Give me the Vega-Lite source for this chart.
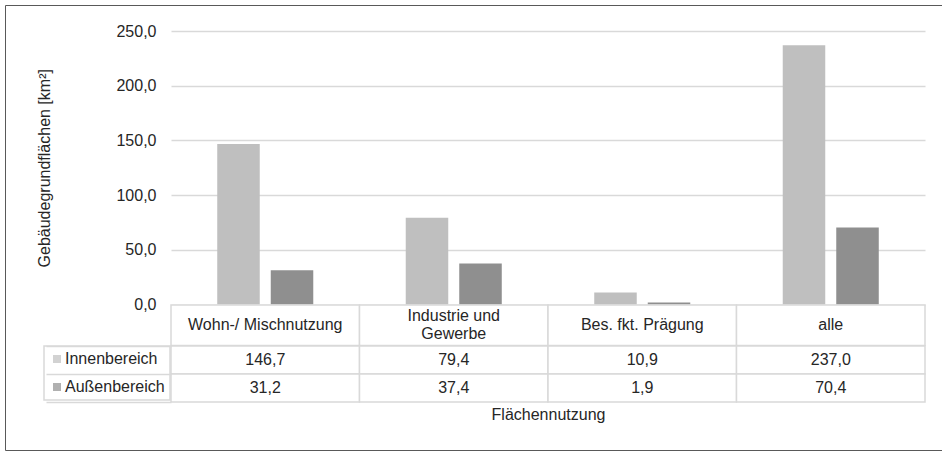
{
  "$schema": "https://vega.github.io/schema/vega-lite/v6.json",
  "background": "white",
  "padding": {"left": 4, "top": 4, "right": 0, "bottom": 0},
  "config": {
    "font": "Liberation Sans",
    "view": {"stroke": null},
    "locale": {"number": {"decimal": ",", "thousands": ".", "grouping": [3], "currency": ["", " €"]}},
    "text": {"fontSize": 16, "color": "#262626"},
    "axis": {"labelFontSize": 16, "titleFontSize": 16, "labelColor": "#262626", "titleColor": "#262626", "titleFontWeight": "normal"},
    "legend": {"strokeWidth": 1.5}
  },
  "datasets": {
    "flaechen": [
      {"Nutzung": "Wohn-/ Mischnutzung", "Bereich": "Innenbereich", "Wert": 146.7},
      {"Nutzung": "Wohn-/ Mischnutzung", "Bereich": "Außenbereich", "Wert": 31.2},
      {"Nutzung": "Industrie und\nGewerbe", "Bereich": "Innenbereich", "Wert": 79.4},
      {"Nutzung": "Industrie und\nGewerbe", "Bereich": "Außenbereich", "Wert": 37.4},
      {"Nutzung": "Bes. fkt. Prägung", "Bereich": "Innenbereich", "Wert": 10.9},
      {"Nutzung": "Bes. fkt. Prägung", "Bereich": "Außenbereich", "Wert": 1.9},
      {"Nutzung": "alle", "Bereich": "Innenbereich", "Wert": 237.0},
      {"Nutzung": "alle", "Bereich": "Außenbereich", "Wert": 70.4}
    ]
  },
  "bounds": "flush",
  "spacing": 0,
  "vconcat": [
    {
      "bounds": "flush",
      "spacing": 0,
      "hconcat": [
        {
          "width": 166,
          "height": 1,
          "data": {"values": []},
          "mark": {"type": "rule"},
          "encoding": {}
        },
        {
          "bounds": "flush",
          "spacing": 0,
          "resolve": {"scale": {"color": "independent"}, "legend": {"color": "independent"}},
          "vconcat": [
            {
              "width": 754,
              "height": 26,
              "data": {"values": []},
              "mark": {"type": "rule"},
              "encoding": {}
            },
            {
              "width": 754,
              "height": 273.5,
              "data": {"name": "flaechen"},
              "mark": {"type": "bar"},
              "encoding": {
                "x": {"field": "Nutzung", "type": "nominal", "sort": null, "scale": {"paddingInner": 0, "paddingOuter": 0}, "axis": null},
                "xOffset": {"field": "Bereich", "type": "nominal", "sort": ["Innenbereich", "Außenbereich"], "scale": {"paddingInner": 0.2056, "paddingOuter": 0.864}},
                "y": {
                  "field": "Wert", "type": "quantitative",
                  "scale": {"domain": [0, 250], "nice": false},
                  "axis": {
                    "values": [0, 50, 100, 150, 200, 250], "format": ".1f",
                    "title": "Gebäudegrundflächen [km²]",
                    "grid": true, "gridColor": "#D9D9D9", "gridWidth": 1.5,
                    "domain": false, "ticks": false, "tickSize": 0,
                    "labelPadding": 15, "titlePadding": 63
                  }
                },
                "color": {
                  "field": "Bereich", "type": "nominal",
                  "scale": {"domain": ["Innenbereich", "Außenbereich"], "range": ["#BFBFBF", "#8F8F8F"]},
                  "legend": null
                }
              }
            },
            {
              "width": 754,
              "height": 40.5,
              "data": {"name": "flaechen"},
              "transform": [{"filter": "datum.Bereich === 'Innenbereich'"}],
              "encoding": {
                "x": {"field": "Nutzung", "type": "nominal", "sort": null, "scale": {"paddingInner": 0, "paddingOuter": 0}, "axis": null}
              },
              "layer": [
                {"mark": {"type": "rect", "fill": "white", "stroke": "#D9D9D9", "strokeWidth": 1.5}},
                {
                  "mark": {"type": "text", "lineBreak": "\n", "dy": {"expr": "indexof(datum.Nutzung, '\\n') >= 0 ? -9 : 0"}},
                  "encoding": {"text": {"field": "Nutzung", "type": "nominal"}}
                }
              ]
            },
            {
              "width": 754,
              "height": 56,
              "data": {"name": "flaechen"},
              "encoding": {
                "x": {
                  "field": "Nutzung", "type": "nominal", "sort": null,
                  "scale": {"paddingInner": 0, "paddingOuter": 0},
                  "axis": {"title": "Flächennutzung", "labels": false, "ticks": false, "domain": false, "titlePadding": 4}
                },
                "y": {
                  "field": "Bereich", "type": "nominal", "sort": ["Innenbereich", "Außenbereich"],
                  "scale": {"paddingInner": 0, "paddingOuter": 0},
                  "axis": {"title": null, "labels": false, "domain": false, "ticks": true, "tickBand": "extent", "tickSize": 125, "tickWidth": 1.5, "tickColor": "#D9D9D9"}
                }
              },
              "layer": [
                {"mark": {"type": "rect", "fill": "white", "stroke": "#D9D9D9", "strokeWidth": 1.5}},
                {"mark": {"type": "text"}, "encoding": {"text": {"field": "Wert", "type": "quantitative", "format": ".1f"}}},
                {
                  "mark": {"type": "point", "filled": true, "size": 0, "shape": "square"},
                  "encoding": {
                    "color": {
                      "field": "Bereich", "type": "nominal",
                      "scale": {"domain": ["Innenbereich", "Außenbereich"], "range": ["#BFBFBF", "#8F8F8F"]},
                      "legend": {
                        "orient": "left", "title": null, "offset": -125, "padding": 5, "rowPadding": 12,
                        "symbolType": "square", "symbolSize": 64, "symbolStrokeWidth": 0, "labelOffset": 0,
                        "labelFontSize": 16, "labelColor": "#262626", "strokeColor": "#D9D9D9"
                      }
                    }
                  }
                }
              ]
            }
          ]
        }
      ]
    },
    {
      "width": 937,
      "height": 445,
      "data": {"values": []},
      "mark": {"type": "rule"},
      "encoding": {},
      "view": {"stroke": "#595959", "strokeWidth": 1, "fill": null}
    }
  ]
}
